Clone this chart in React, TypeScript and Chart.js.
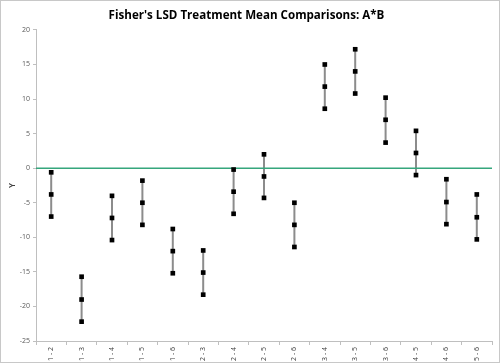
import React, { useEffect, useRef } from "react";
import { Chart, registerables } from "chart.js";

Chart.register(...registerables);

const categories = ["1 - 2", "1 - 3", "1 - 4", "1 - 5", "1 - 6", "2 - 3", "2 - 4", "2 - 5", "2 - 6", "3 - 4", "3 - 5", "3 - 6", "4 - 5", "4 - 6", "5 - 6"];
const upperValues = [-0.6, -15.7, -4.0, -1.8, -8.8, -11.9, -0.2, 2.0, -5.0, 15.0, 17.2, 10.2, 5.4, -1.6, -3.8];
const meanValues = [-3.8, -19.0, -7.2, -5.0, -12.0, -15.1, -3.4, -1.2, -8.2, 11.8, 14.0, 7.0, 2.2, -4.9, -7.1];
const lowerValues = [-7.0, -22.2, -10.4, -8.2, -15.2, -18.3, -6.6, -4.3, -11.4, 8.6, 10.8, 3.7, -1.0, -8.1, -10.3];
const yTicks = [-25, -20, -15, -10, -5, 0, 5, 10, 15, 20];
const referenceValue = 0;

const zeroLinePlugin = {
  id: "zeroLine",
  afterDatasetDraw(chart: any, args: any) {
    if (args.index !== 0) return;
    const { ctx, chartArea, scales } = chart;
    const y = scales.y.getPixelForValue(referenceValue);
    ctx.save();
    ctx.strokeStyle = "#35a67c";
    ctx.lineWidth = 1.5;
    ctx.beginPath();
    ctx.moveTo(chartArea.left, y);
    ctx.lineTo(chartArea.right, y);
    ctx.stroke();
    ctx.restore();
  },
};

export default function App() {
  const ref = useRef<HTMLCanvasElement | null>(null);
  useEffect(() => {
    if (!ref.current) return;
    const segData: any[] = [];
    const ptData: any[] = [];
    categories.forEach((c, i) => {
      segData.push({ x: c, y: upperValues[i] });
      segData.push({ x: c, y: lowerValues[i] });
      segData.push({ x: c, y: null });
      ptData.push({ x: c, y: upperValues[i] });
      ptData.push({ x: c, y: meanValues[i] });
      ptData.push({ x: c, y: lowerValues[i] });
    });
    const chart = new Chart(ref.current, {
      type: "line",
      data: {
        labels: categories,
        datasets: [
          {
            data: segData,
            borderColor: "#8c8c8c",
            borderWidth: 2,
            pointRadius: 0,
            spanGaps: false,
            order: 2,
          } as any,
          {
            data: ptData,
            showLine: false,
            pointStyle: "rect",
            pointRadius: 3.3,
            pointBackgroundColor: "#000",
            pointBorderWidth: 0,
            order: 1,
          } as any,
        ],
      },
      options: {
        responsive: false,
        animation: false,
        events: [],
        layout: { padding: { left: 0, right: 7, top: 0, bottom: 0 } },
        plugins: {
          legend: { display: false },
          tooltip: { enabled: false },
          title: {
            display: true,
            text: "Fisher's LSD Treatment Mean Comparisons: A*B",
            color: "#000",
            font: { family: "Open Sans", size: 11.6, weight: "bold" },
            padding: { top: 8, bottom: 7 },
          },
        },
        scales: {
          x: {
            type: "category",
            offset: true,
            grid: { display: true, drawOnChartArea: false, drawTicks: true, tickLength: 4, offset: true, color: "#bfbfbf" },
            border: { color: "#bfbfbf" },
            ticks: { minRotation: 90, maxRotation: 90, color: "#404040", font: { family: "Open Sans", size: 7 }, padding: 2 },
            afterFit(scale: any) { scale.height = 21; },
          },
          y: {
            min: -25,
            max: 20,
            afterBuildTicks(scale: any) { scale.ticks = yTicks.map((v) => ({ value: v })); },
            grid: { display: true, drawOnChartArea: false, drawTicks: true, tickLength: 3, color: "#bfbfbf" },
            border: { color: "#bfbfbf" },
            ticks: { color: "#595959", font: { family: "Open Sans", size: 7 }, padding: 3 },
            title: { display: true, text: "Y", color: "#404040", font: { family: "Open Sans", size: 8, weight: "bold" }, padding: { top: 7, bottom: 0 } },
            afterFit(scale: any) { scale.width = 35; },
          },
        },
      },
      plugins: [zeroLinePlugin],
    });
    return () => chart.destroy();
  }, []);
  return (
    <div style={{ position: "absolute", left: 0, top: 0, width: 500, height: 363, boxSizing: "border-box", border: "1px solid #c8c8c8", background: "#fff" }}>
      <canvas ref={ref} width={498} height={361} style={{ display: "block" }} />
    </div>
  );
}
